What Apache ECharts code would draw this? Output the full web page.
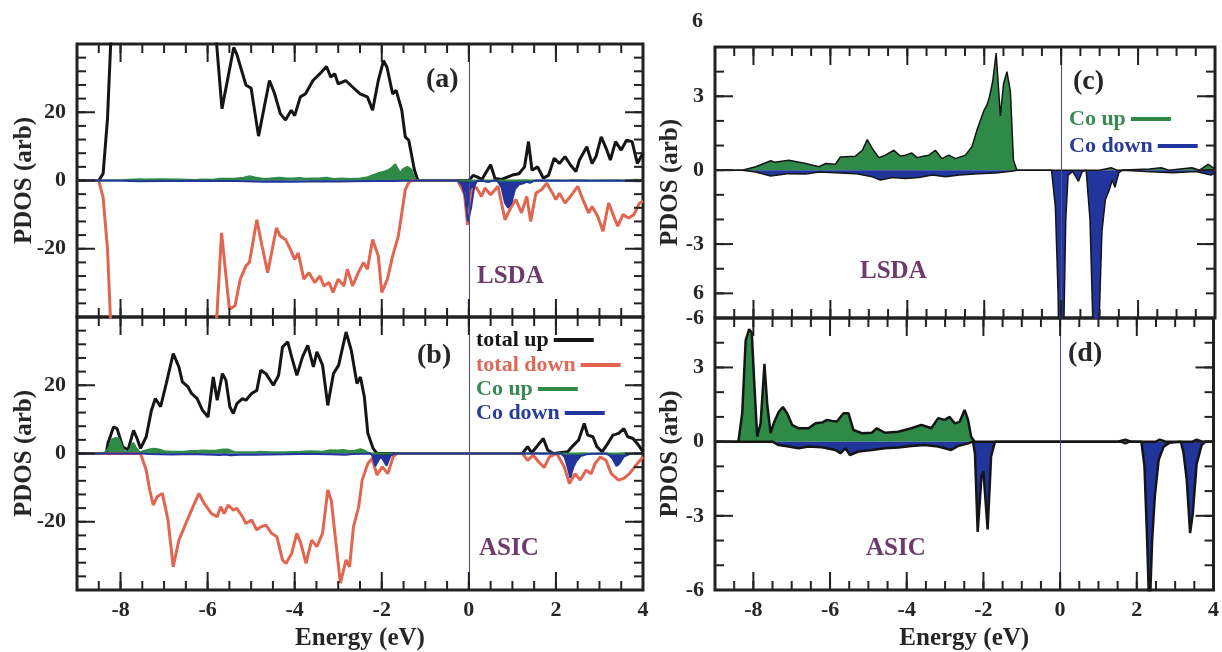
<!DOCTYPE html>
<html><head><meta charset="utf-8">
<script src="https://cdn.jsdelivr.net/npm/echarts@6/dist/echarts.min.js"></script>
<style>html,body{margin:0;padding:0;background:#fff}#c{width:1222px;height:652px}</style>
</head><body><div id="c"></div><script>
// ---------- data (energy eV, PDOS) ----------
const energyTicks = [-8, -6, -4, -2, 0, 2, 4];
const leftYLabels = [-20, 0, 20];
const leftYMajor = [-20, 0, 20];
const rightYLabelsC = [-6, -5, -3, 0, 3];
const rightYLabelsD = [-6, -3, 0, 3];
const rightYMajorC = [-5, -3, 0, 3];
const rightYMajor = [-3, 0, 3];

// LSDA total up
const lsdaTotalUp = [[-9,0],[-8.5,0],[-8.4,2],[-8.3,18],[-8.2,48],[-8.0,75],[-7.5,85],[-7.0,80],[-6.5,78],[-6.0,72],[-5.85,50],[-5.78,38],[-5.67,21],[-5.4,39],[-5.33,37],[-5.12,28],[-5.0,27],[-4.83,13],[-4.58,29.3],[-4.46,25.4],[-4.33,19.6],[-4.21,17.7],[-4.08,20.6],[-4.0,19],[-3.87,24.5],[-3.75,25.4],[-3.58,29.3],[-3.42,31.3],[-3.27,33.4],[-3.17,30.3],[-3.08,31.3],[-3.0,28.3],[-2.83,29.3],[-2.67,27.4],[-2.5,25.4],[-2.33,24.5],[-2.21,20.6],[-2.08,29.3],[-1.96,35.1],[-1.88,33.2],[-1.75,25.4],[-1.67,26.4],[-1.54,20.6],[-1.46,12.8],[-1.38,11.8],[-1.25,3.1],[-1.17,0],[0,0],[0.1,1.5],[0.2,1.0],[0.3,0.3],[0.5,4.6],[0.6,0.6],[0.75,0.3],[1.0,1.6],[1.15,2],[1.28,4],[1.37,11.4],[1.45,3],[1.58,4],[1.71,0.7],[1.83,1.5],[1.96,6.5],[2.08,5],[2.21,7],[2.33,4.6],[2.46,2.6],[2.54,6],[2.71,9.9],[2.83,5],[2.92,7],[3.04,12.8],[3.17,8.9],[3.25,6],[3.37,11.4],[3.5,8.9],[3.62,11.8],[3.75,11.4],[3.87,5],[4.0,8]];
// LSDA total down
const lsdaTotalDown = [[-9,0],[-8.5,0],[-8.4,-5],[-8.3,-20],[-8.2,-50],[-8.0,-75],[-7.0,-80],[-6.0,-75],[-5.85,-50],[-5.78,-38],[-5.68,-15.3],[-5.5,-37.7],[-5.37,-36.7],[-5.25,-28.9],[-5.12,-25],[-5.04,-24],[-4.87,-11.5],[-4.75,-19.2],[-4.62,-27],[-4.42,-13.9],[-4.33,-16.3],[-4.21,-17.3],[-4.08,-20.7],[-4.0,-23.1],[-3.92,-21.2],[-3.79,-28.9],[-3.67,-27],[-3.54,-29.9],[-3.42,-28],[-3.33,-30.9],[-3.21,-29.9],[-3.12,-32.8],[-3.0,-28.9],[-2.87,-30.9],[-2.79,-26],[-2.67,-30.9],[-2.54,-27],[-2.42,-24],[-2.33,-26],[-2.21,-17.3],[-2.08,-22.1],[-2.0,-32.8],[-1.87,-28.9],[-1.75,-22.1],[-1.62,-16.3],[-1.54,-9.5],[-1.46,-2.7],[-1.37,-0.3],[-1.3,0],[-0.25,0],[-0.1,-4],[-0.03,-13],[0.08,-2.7],[0.17,-2],[0.29,-4.7],[0.37,-2.2],[0.5,-4.2],[0.67,-1.7],[0.83,-11.5],[0.96,-8],[1.08,-5.6],[1.21,-9.5],[1.33,-4.7],[1.42,-12],[1.54,-3.7],[1.67,-2.7],[1.79,-0.8],[1.92,-3.7],[2.0,-5.6],[2.08,-3.7],[2.21,-6.6],[2.33,-4.7],[2.5,-1.7],[2.62,-5.6],[2.75,-9.5],[2.83,-7.6],[2.96,-10.5],[3.08,-14.9],[3.21,-6.6],[3.33,-10.5],[3.42,-13.4],[3.54,-10],[3.67,-11],[3.79,-10],[3.92,-6.6],[4.0,-6.1]];
// LSDA Co up / down
const lsdaCoUp = [[-9,0],[-8.29,0],[-7.94,0.14],[-7.55,0.38],[-7.45,0.32],[-7.08,0.4],[-6.64,0.27],[-6.3,0.14],[-6.12,0.27],[-5.87,0.24],[-5.74,0.54],[-5.35,0.57],[-5.17,0.81],[-5.04,1.24],[-4.91,0.88],[-4.74,0.51],[-4.57,0.61],[-4.35,0.81],[-4.18,0.57],[-4.05,0.61],[-3.88,0.7],[-3.75,0.51],[-3.58,0.57],[-3.44,0.61],[-3.27,0.81],[-3.1,0.47],[-2.92,0.61],[-2.75,0.47],[-2.49,0.61],[-2.32,0.95],[-2.19,1.62],[-2.1,2.03],[-2.0,2.45],[-1.93,2.64],[-1.86,3.0],[-1.78,3.6],[-1.69,4.75],[-1.58,2.2],[-1.5,3.5],[-1.41,4.0],[-1.32,3.2],[-1.24,0.4],[-1.15,0],[1.0,0],[1.3,0.1],[1.45,0],[2.3,0.05],[2.6,0.1],[2.8,0],[3.4,0.1],[3.6,0],[3.82,0.24],[4.0,0.05]];
const lsdaCoDown = [[-9,0],[-8.29,0],[-7.94,-0.07],[-7.55,-0.24],[-7.08,-0.14],[-6.64,-0.16],[-6.3,-0.07],[-5.74,-0.11],[-5.35,-0.14],[-4.91,-0.27],[-4.7,-0.4],[-4.39,-0.3],[-4.05,-0.34],[-3.7,-0.3],[-3.35,-0.2],[-3.0,-0.27],[-2.65,-0.2],[-2.15,-0.14],[-1.7,-0.11],[-1.25,-0.03],[-1.15,0],[-0.25,0],[-0.15,-1.5],[-0.08,-5],[-0.02,-12],[0.05,-8],[0.12,-2],[0.18,-0.2],[0.3,-0.05],[0.45,-0.45],[0.55,-0.05],[0.65,0],[0.75,-2],[0.83,-6.5],[0.9,-8],[0.98,-6.5],[1.06,-2.5],[1.15,-1.2],[1.25,-0.8],[1.33,-0.4],[1.4,-0.7],[1.5,-0.1],[1.6,0],[2.2,-0.05],[2.9,-0.1],[3.5,-0.05],[3.9,-0.2],[4.0,-0.1]];
// ASIC total up / down
const asicTotalUp = [[-9,0],[-8.33,0],[-8.29,2.9],[-8.16,7.8],[-8.08,7.3],[-7.95,2],[-7.83,1],[-7.7,6.8],[-7.62,4.4],[-7.54,1.5],[-7.41,4.9],[-7.29,12.7],[-7.2,16.1],[-7.08,13.7],[-6.95,20.5],[-6.79,29.3],[-6.66,25.4],[-6.58,21],[-6.45,19.5],[-6.37,17.6],[-6.24,16.1],[-6.12,12.7],[-5.99,10.7],[-5.87,22.4],[-5.78,15.6],[-5.66,23.4],[-5.58,21.5],[-5.49,13.7],[-5.41,11.7],[-5.33,14.6],[-5.2,16.1],[-5.12,15.6],[-4.99,17.6],[-4.87,18.5],[-4.78,24.4],[-4.66,23.4],[-4.49,20],[-4.37,22.9],[-4.28,31.2],[-4.16,32.7],[-4.07,28.3],[-3.95,22.9],[-3.82,28.3],[-3.7,31.7],[-3.57,25.4],[-3.49,29.8],[-3.36,25.9],[-3.24,14.1],[-3.11,23.4],[-2.99,25.9],[-2.82,35.6],[-2.7,30.2],[-2.57,20.5],[-2.49,22.4],[-2.4,16.6],[-2.32,5.9],[-2.2,1.5],[-2.11,0],[1.23,0],[1.35,2],[1.44,0.2],[1.56,2],[1.71,4.4],[1.81,1],[1.94,0],[2.27,0.5],[2.4,2.4],[2.52,3.9],[2.65,8.8],[2.73,5.4],[2.85,4.9],[2.94,2],[3.06,0.5],[3.19,2.9],[3.31,5.4],[3.44,5.9],[3.56,7.3],[3.65,4.9],[3.77,4.4],[3.9,2.4],[4.0,0.5]];
const asicTotalDown = [[-9,0],[-7.54,0],[-7.41,-4.9],[-7.33,-10.7],[-7.25,-15.1],[-7.16,-12.7],[-7.04,-11.7],[-6.91,-19.5],[-6.79,-33.2],[-6.66,-25.4],[-6.5,-20.5],[-6.37,-16.6],[-6.2,-11.7],[-6.08,-14.6],[-5.91,-17.6],[-5.78,-18.5],[-5.7,-15.6],[-5.62,-17.6],[-5.53,-15.1],[-5.41,-16.6],[-5.33,-16.1],[-5.2,-18.5],[-5.12,-20.5],[-4.99,-19.5],[-4.87,-22.4],[-4.78,-21.5],[-4.66,-21],[-4.53,-23.4],[-4.41,-24.4],[-4.28,-31.2],[-4.2,-32.2],[-4.07,-29.3],[-3.95,-23.4],[-3.86,-26.3],[-3.74,-32.2],[-3.61,-25.4],[-3.49,-27.3],[-3.36,-23.4],[-3.24,-10.7],[-3.16,-13.7],[-3.06,-25.4],[-2.95,-38],[-2.82,-31.2],[-2.74,-33.2],[-2.65,-21.5],[-2.53,-15.6],[-2.45,-7.8],[-2.32,-2.9],[-2.22,-1.5],[-2.11,-6.3],[-1.99,-3.9],[-1.86,-5.9],[-1.74,-1],[-1.65,0],[1.23,0],[1.35,-2],[1.48,-0.5],[1.6,-2.4],[1.73,-4.1],[1.85,-1],[2.02,0],[2.19,-3.9],[2.31,-8.8],[2.44,-5.9],[2.56,-7.8],[2.69,-4.9],[2.81,-5.9],[2.9,-2.9],[3.02,-1],[3.15,-2],[3.27,-5.9],[3.44,-7.8],[3.56,-7.3],[3.69,-5.9],[3.81,-3.9],[4.0,-1]];
// ASIC Co up / down
const asicCoUp = [[-9,0],[-8.39,0],[-8.29,1.15],[-8.2,4.1],[-8.11,4.55],[-8.04,4.4],[-7.98,2.5],[-7.9,0.2],[-7.81,0.74],[-7.71,3.15],[-7.64,1.55],[-7.55,0.34],[-7.47,0.74],[-7.34,1.2],[-7.23,1.4],[-7.12,1.15],[-6.99,0.68],[-6.82,0.54],[-6.56,0.54],[-6.38,0.74],[-6.21,0.77],[-6.08,0.88],[-5.95,0.84],[-5.82,0.81],[-5.65,1.15],[-5.52,1.15],[-5.39,0.47],[-5.17,0.34],[-4.91,0.36],[-4.78,0.54],[-4.57,0.36],[-4.22,0.4],[-3.88,0.54],[-3.62,0.68],[-3.49,0.61],[-3.36,0.54],[-3.18,0.95],[-3.01,0.88],[-2.88,1.0],[-2.75,0.74],[-2.62,0.8],[-2.49,1.28],[-2.4,0.88],[-2.32,0.2],[-2.23,0],[1.5,0],[1.7,0.08],[1.85,0],[2.5,0],[2.6,0.08],[2.75,0],[3.45,0],[3.56,0.08],[3.7,0],[4,0]];
const asicCoDown = [[-9,0],[-7.5,0],[-7.34,-0.14],[-7.08,-0.2],[-6.82,-0.27],[-6.56,-0.2],[-6.21,-0.23],[-5.86,-0.34],[-5.73,-0.47],[-5.6,-0.27],[-5.48,-0.54],[-5.26,-0.4],[-4.91,-0.34],[-4.57,-0.27],[-4.22,-0.24],[-3.88,-0.18],[-3.53,-0.14],[-3.18,-0.2],[-3.01,-0.27],[-2.84,-0.34],[-2.67,-0.18],[-2.4,-0.07],[-2.27,0],[-2.22,-0.5],[-2.15,-3.65],[-2.05,-1.4],[-2.0,-1.2],[-1.89,-3.55],[-1.8,-0.6],[-1.7,0],[1.6,0],[1.7,-0.07],[1.8,0],[2.12,0],[2.2,-1.0],[2.27,-4],[2.33,-7.1],[2.4,-4],[2.47,-2.2],[2.57,-0.74],[2.7,-0.2],[2.85,-0.05],[3.15,0],[3.22,-0.47],[3.3,-1.5],[3.39,-3.7],[3.46,-2.9],[3.56,-0.9],[3.69,-0.14],[3.8,0],[4,0]];

// ---------- styling ----------
const FONT = '"Liberation Serif","Times New Roman",serif';
const TXT = '#262626';
const FRAME = '#222222';
const BLACK = '#151515', RED = '#e2654f', GREEN = '#2f8a48', BLUE = '#22359c', PURPLE = '#6e3a6c';
const X_MIN = -9, X_MAX = 4;

function stepValues(from, to, step) {
  const out = [];
  for (let v = from; v <= to + 1e-9; v += step) out.push(Math.round(v * 1000) / 1000);
  return out;
}
function labelStyle(extra) {
  return Object.assign({color: TXT, fontSize: 22, fontWeight: 'bold', fontFamily: FONT}, extra);
}
function nameStyle() { return {color: TXT, fontSize: 25, fontWeight: 'bold', fontFamily: FONT}; }

const panels = [
  {ymin: -40, ymax: 40, yStep: 4, yLabels: leftYLabels, yMajorL: leftYMajor, yMajorR: leftYMajor, xLabels: false, nameGap: 40},
  {ymin: -40, ymax: 40, yStep: 4, yLabels: leftYLabels, yMajorL: leftYMajor, yMajorR: leftYMajor, xLabels: true, nameGap: 40},
  {ymin: -6, ymax: 5, yStep: 1, yLabels: rightYLabelsC, yFmt: function (v) { return v === -5 ? '6' : String(v); }, yMajorL: rightYMajorC, yMajorR: rightYMajor, xLabels: false, nameGap: 32},
  {ymin: -6, ymax: 5, yStep: 1, yLabels: rightYLabelsD, yMajorL: rightYMajor, yMajorR: rightYMajor, xLabels: true, nameGap: 32}
];
const xAxes = [], yAxes = [];
panels.forEach(function (p, g) {
  const xa = {type: 'value', gridIndex: g, min: X_MIN, max: X_MAX, interval: 0.5, splitLine: {show: false},
    axisLine: {show: false, onZero: false}, axisTick: {show: false},
    axisLabel: labelStyle({show: p.xLabels, customValues: energyTicks, margin: 9})};
  if (p.xLabels) {
    xa.name = 'Energy (eV)'; xa.nameLocation = 'middle'; xa.nameGap = 36;
    xa.nameTextStyle = nameStyle(); xa.nameMoveOverlap = false;
  }
  xAxes.push(xa);
  const lab = labelStyle({customValues: p.yLabels, margin: 11});
  if (p.yFmt) lab.formatter = p.yFmt;
  yAxes.push({type: 'value', gridIndex: g, min: p.ymin, max: p.ymax, interval: p.yStep, splitLine: {show: false},
    axisLine: {show: false, onZero: false}, axisTick: {show: false}, axisLabel: lab,
    name: 'PDOS (arb)', nameLocation: 'middle', nameGap: p.nameGap, nameRotate: 90, nameMoveOverlap: false, nameTextStyle: nameStyle()});
});

function zeroLine() {
  return {symbol: ['none', 'none'], label: {show: false}, silent: true,
    lineStyle: {color: '#4d4ba0', width: 1, type: 'solid'}, data: [{xAxis: 0}]};
}
function line(name, g, data, color, width, extra) {
  return Object.assign({type: 'line', name: name, xAxisIndex: g, yAxisIndex: g, data: data,
    symbol: 'none', lineStyle: {color: color, width: width}, itemStyle: {color: color}}, extra || {});
}
function leftPanel(g, up, down, coUp, coDown) {
  return [
    line('total up', g, up, BLACK, 3, {markLine: zeroLine()}),
    line('total down', g, down, RED, 3),
    line('Co up', g, coUp, GREEN, 2, {areaStyle: {color: GREEN, opacity: 1}}),
    line('Co down', g, coDown, BLUE, 2, {areaStyle: {color: BLUE, opacity: 1}})
  ];
}
function rightPanel(g, coUp, coDown, w) {
  return [
    line('Co up', g, coUp, BLACK, w, {itemStyle: {color: GREEN}, areaStyle: {color: GREEN, opacity: 1}, markLine: zeroLine()}),
    line('Co down', g, coDown, BLACK, w, {itemStyle: {color: BLUE}, areaStyle: {color: BLUE, opacity: 1}})
  ];
}

function legendItem(name, left, top, iconColor, textColor) {
  return {left: left, top: top, orient: 'vertical', align: 'right', padding: 0, itemWidth: 40, itemHeight: 4,
    icon: 'rect', selectedMode: false, itemStyle: {borderWidth: 0},
    textStyle: {fontSize: 22, fontWeight: 'bold', fontFamily: FONT, lineHeight: 22},
    data: [{name: name, itemStyle: {color: iconColor}, textStyle: {color: textColor}}]};
}
function txt(text, left, top, size, color) {
  return {type: 'text', left: left, top: top, z: 100, silent: true,
    style: {text: text, fill: color, font: 'bold ' + size + 'px ' + FONT}};
}
const labelTexts = [
  txt('(a)', 426, 66, 28, TXT),
  txt('(b)', 417, 342, 28, TXT),
  txt('(c)', 1073, 68, 28, TXT),
  txt('(d)', 1068, 340, 28, TXT),
  txt('LSDA', 477, 264, 25, PURPLE),
  txt('ASIC', 479, 536, 25, PURPLE),
  txt('LSDA', 860, 259, 25, PURPLE),
  txt('ASIC', 866, 536, 25, PURPLE),
  txt('6', 692, 10, 22, TXT)
];

const gridBase = {show: true, borderColor: FRAME, borderWidth: 3, backgroundColor: 'rgba(0,0,0,0)'};
const option = {
  animation: false,
  grid: [
    Object.assign({left: 77, top: 44, width: 566, height: 273}, gridBase),
    Object.assign({left: 77, top: 317, width: 566, height: 273}, gridBase),
    Object.assign({left: 715, top: 47, width: 500, height: 271}, gridBase),
    Object.assign({left: 715, top: 318, width: 500, height: 273}, gridBase)
  ],
  xAxis: xAxes,
  yAxis: yAxes,
  legend: [
    legendItem('total up', 476, 329, BLACK, BLACK),
    legendItem('total down', 476, 354, RED, '#e06a58'),
    legendItem('Co up', 476, 378, GREEN, '#3a8a55'),
    legendItem('Co down', 476, 402, BLUE, '#2a3c9a'),
    legendItem('Co up', 1069, 108, GREEN, '#3a8a55'),
    legendItem('Co down', 1069, 135, BLUE, '#2a3c9a')
  ],
  graphic: labelTexts,
  series: [].concat(
    leftPanel(0, lsdaTotalUp, lsdaTotalDown, lsdaCoUp, lsdaCoDown),
    leftPanel(1, asicTotalUp, asicTotalDown, asicCoUp, asicCoDown),
    rightPanel(2, lsdaCoUp, lsdaCoDown, 1.5),
    rightPanel(3, asicCoUp, asicCoDown, 2.5)
  )
};
const chart = echarts.init(document.getElementById('c'));
chart.setOption(option);

// inward tick marks on all four sides, positioned through each grid's own axis scales
const tickEls = [];
panels.forEach(function (p, g) {
  function px(x, y) { return chart.convertToPixel({gridIndex: g}, [x, y]); }
  function addTick(x, y, len, side) {
    const pt = px(x, y);
    if (!pt) return;
    let x2 = pt[0], y2 = pt[1];
    if (side === 0) y2 -= len; else if (side === 1) y2 += len; else if (side === 2) x2 += len; else x2 -= len;
    tickEls.push({type: 'line', zlevel: 1, z: 50, silent: true,
      shape: {x1: pt[0], y1: pt[1], x2: x2, y2: y2}, style: {stroke: FRAME, lineWidth: 2}});
  }
  stepValues(X_MIN, X_MAX, 0.5).forEach(function (v) { addTick(v, p.ymin, 9, 0); addTick(v, p.ymax, 9, 1); });
  energyTicks.forEach(function (v) { addTick(v, p.ymin, 18, 0); addTick(v, p.ymax, 18, 1); });
  stepValues(p.ymin, p.ymax, p.yStep).forEach(function (v) { addTick(X_MIN, v, 9, 2); addTick(X_MAX, v, 9, 3); });
  p.yMajorL.forEach(function (v) { addTick(X_MIN, v, 18, 2); });
  p.yMajorR.forEach(function (v) { addTick(X_MAX, v, 18, 3); });
});
chart.setOption({graphic: labelTexts.concat(tickEls)});
</script></body></html>
